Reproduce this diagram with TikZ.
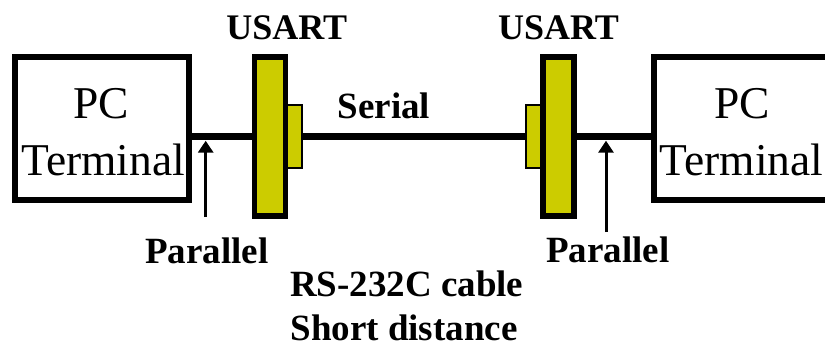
\documentclass[tikz,border=0pt]{standalone}
\usepackage{fontspec}
\setmainfont{Liberation Serif}
\usetikzlibrary{arrows.meta}
\definecolor{usart}{RGB}{204,204,0}
\begin{document}
\begin{tikzpicture}[x=1pt,y=-1pt,
  pcbox/.style={draw=black,line width=6pt,minimum width=174pt,minimum height=143pt,inner sep=0pt,fill=white},
  usartbar/.style={draw=black,fill=usart,line width=5.7pt,minimum width=31pt,minimum height=159.3pt,inner sep=0pt},
  usartport/.style={draw=black,fill=usart,line width=2pt,minimum width=14.7pt,minimum height=63pt,inner sep=0pt},
  wire/.style={line width=7pt},
  pointer/.style={line width=3pt,-{Triangle[width=15pt,length=12pt]}},
  boldlbl/.style={font=\fontsize{37}{44}\selectfont\bfseries,anchor=base,inner sep=0pt},
  pclbl/.style={font=\fontsize{45.5}{54}\selectfont,anchor=base,inner sep=0pt}]
\useasboundingbox (0,0) rectangle (825,364);
\clip (0,0) rectangle (825,364);
% boxes
\node[pcbox] (leftpc) at (102,128.5) {};
\node[pcbox] (rightpc) at (741.3,128.5) {};
% USART ports and bars
\node[usartport] (lport) at (294.3,136.5) {};
\node[usartport] (rport) at (533.7,136.5) {};
\node[usartbar] (lbar) at (270,136.5) {};
\node[usartbar] (rbar) at (558.2,136.5) {};
% wires
\draw[wire] (leftpc.east |- lbar.center) -- (lbar.west);
\draw[wire] (lport.east) -- (rport.west);
\draw[wire] (rbar.east) -- (rightpc.west |- rbar.center);
% pointers
\coordinate (lptail) at (205.7,217);
\coordinate (lptip) at (205.7,140.7);
\coordinate (rptail) at (606,232);
\coordinate (rptip) at (606,140.7);
\draw[pointer] (lptail) -- (lptip);
\draw[pointer] (rptail) -- (rptip);
% texts
\node[pclbl] (lpc) at (101,118) {PC};
\node[pclbl] (lterm) at (103.3,175.7) {Terminal};
\node[pclbl] (rpc) at (742,118) {PC};
\node[pclbl] (rterm) at (741.5,175.7) {Terminal};
\node[boldlbl,font=\fontsize{36}{44}\selectfont\bfseries] (lusart) at (286.7,39.3) {USART};
\node[boldlbl,font=\fontsize{36}{44}\selectfont\bfseries] (rusart) at (558.5,39.3) {USART};
\node[boldlbl] (serial) at (384,118) {Serial};
\node[boldlbl] (lpar) at (207,263.3) {Parallel};
\node[boldlbl] (rpar) at (607.7,262.7) {Parallel};
\node[boldlbl] (cable) at (406.7,296) {RS-232C cable};
\node[boldlbl] (dist) at (404,340.7) {Short distance};
\end{tikzpicture}
\end{document}
